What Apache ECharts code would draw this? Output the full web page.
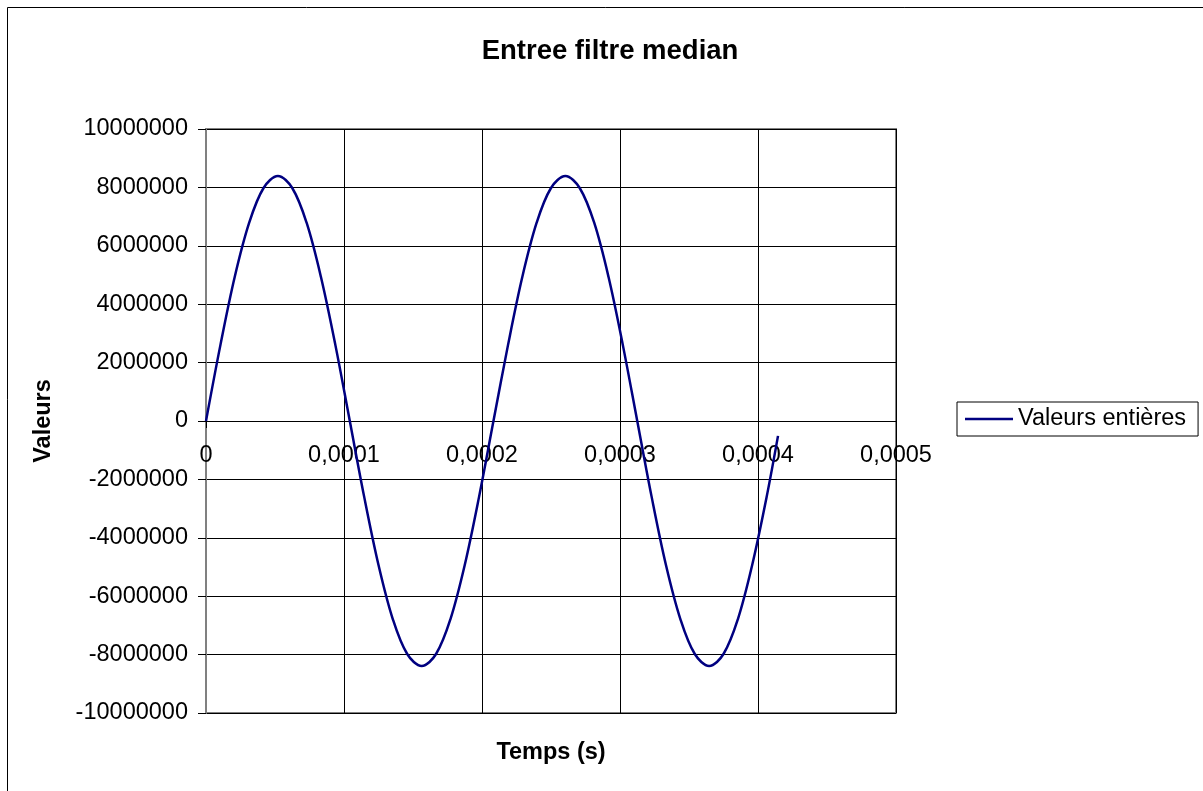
<!DOCTYPE html>
<html>
<head>
<meta charset="utf-8">
<script src="https://cdn.jsdelivr.net/npm/echarts@6/dist/echarts.min.js"></script>
<style>
  html, body { margin: 0; padding: 0; background: #fff; }
  #chart { width: 1203px; height: 791px; }
</style>
</head>
<body>
<div id="chart"></div>
<script>
// Sampled input of the median filter: time (s) and integer value
const temps = [
  0, 0.0000104, 0.0000208, 0.0000313, 0.0000417, 0.0000521, 0.0000625, 0.0000729,
  0.0000833, 0.0000938, 0.0001042, 0.0001146, 0.000125, 0.0001354, 0.0001458,
  0.0001563, 0.0001667, 0.0001771, 0.0001875, 0.0001979, 0.0002083, 0.0002188,
  0.0002292, 0.0002396, 0.00025, 0.0002604, 0.0002708, 0.0002813, 0.0002917,
  0.0003021, 0.0003125, 0.0003229, 0.0003333, 0.0003438, 0.0003542, 0.0003646,
  0.000375, 0.0003854, 0.0003958, 0.0004063, 0.0004145
];
const valeursEntieres = [
  0, 2590000, 4930000, 6790000, 7980000, 8390000, 7980000, 6790000,
  4930000, 2590000, 0, -2590000, -4930000, -6790000, -7980000,
  -8390000, -7980000, -6790000, -4930000, -2590000, 0, 2590000,
  4930000, 6790000, 7980000, 8390000, 7980000, 6790000, 4930000,
  2590000, 0, -2590000, -4930000, -6790000, -7980000, -8390000,
  -7980000, -6790000, -4930000, -2590000, -510000
];
const titre = 'Entree filtre median';
const nomSerie = 'Valeurs entières';
const nomAxeX = 'Temps (s)';
const nomAxeY = 'Valeurs';

const FONT = 'Liberation Sans, Arial, sans-serif';
const points = temps.map((t, i) => [t, valeursEntieres[i]]);

// plot box; the time axis sits on the zero line, half-way down
const GRID = { left: 206, top: 129, width: 690, height: 584 };
const ZERO_OFFSET = -GRID.height / 2;

const chart = echarts.init(document.getElementById('chart'), null, { renderer: 'canvas' });
chart.setOption({
  animation: false,
  backgroundColor: '#fff',
  textStyle: { fontFamily: FONT },
  title: {
    text: titre,
    left: 605, top: 32, textAlign: 'center',
    textStyle: { fontFamily: FONT, fontSize: 27.5, fontWeight: 'bold', color: '#000' }
  },
  graphic: [
    { type: 'rect', shape: { x: 7.5, y: 7.5, width: 1300, height: 900 },
      style: { fill: 'none', stroke: '#000', lineWidth: 1 }, silent: true, z: -10 },
    { type: 'text', x: 551, y: 753,
      style: { text: nomAxeX, font: 'bold 23.5px ' + FONT, fill: '#000', align: 'center', verticalAlign: 'middle' } },
    { type: 'text', x: 44, y: 421, rotation: Math.PI / 2,
      style: { text: nomAxeY, font: 'bold 23.5px ' + FONT, fill: '#000', align: 'center', verticalAlign: 'middle' } }
  ],
  legend: {
    left: 957, top: 402,
    orient: 'vertical',
    padding: [5, 12, 5, 8],
    icon: 'rect',
    itemWidth: 48, itemHeight: 2.5,
    backgroundColor: '#fff',
    borderColor: '#000', borderWidth: 1, borderRadius: 0,
    textStyle: { fontFamily: FONT, fontSize: 23.5, color: '#000' },
    data: [nomSerie]
  },
  grid: Object.assign({ show: true, borderColor: '#808080', borderWidth: 2, backgroundColor: '#fff' }, GRID),
  xAxis: {
    type: 'value', min: 0, max: 0.0005, interval: 0.0001,
    offset: ZERO_OFFSET,
    axisLine: { onZero: false, lineStyle: { color: '#000', width: 1 } },
    axisTick: { show: true, length: 7, lineStyle: { color: '#000' } },
    axisLabel: {
      fontFamily: FONT, fontSize: 23.5, color: '#000', margin: 23,
      formatter: v => v === 0 ? '0' : v.toFixed(4).replace('.', ',')
    },
    splitLine: { show: true, lineStyle: { color: '#000', width: 1 } }
  },
  yAxis: {
    type: 'value', min: -10000000, max: 10000000, interval: 2000000,
    axisLine: { show: true, onZero: false, lineStyle: { color: '#808080', width: 2 } },
    axisTick: { show: true, length: 8, lineStyle: { color: '#000' } },
    axisLabel: {
      fontFamily: FONT, fontSize: 23.5, color: '#000', margin: 18,
      formatter: v => String(v)
    },
    splitLine: { show: true, lineStyle: { color: '#000', width: 1 } }
  },
  series: [{
    name: nomSerie,
    type: 'line',
    data: points,
    smooth: 0.35,
    symbol: 'none',
    lineStyle: { color: '#000080', width: 2.5 },
    itemStyle: { color: '#000080' }
  }]
});
</script>
</body>
</html>
